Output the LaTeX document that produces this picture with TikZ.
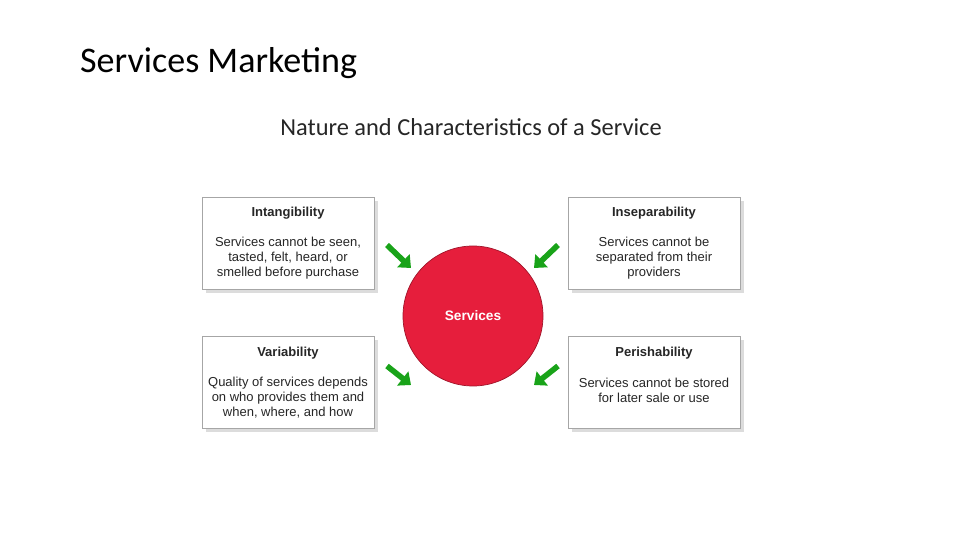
\documentclass[tikz,border=0pt]{standalone}
\usepackage{fontspec}
\setmainfont{Carlito}
\newfontfamily\boxfont{Liberation Sans}
\usetikzlibrary{shadows,arrows.meta}

\definecolor{servred}{RGB}{230,30,60}

\tikzset{
	trait/.style = {draw = gray!70, fill = white, minimum width = 172*0.02cm, minimum height = 92*0.02cm,
		drop shadow = {shadow xshift = 2pt, shadow yshift = -2.5pt, fill = gray!55}},
	traittitle/.style = {font = \boxfont\fontsize{7.4}{9}\selectfont\bfseries, text = black!85},
	traittext/.style = {font = \boxfont\fontsize{7.4}{8.6}\selectfont, align = center, text = black!85},
	push/.style = {draw = green!60!black!90, line width = 3.2pt, -{Triangle[length = 6pt, width = 10pt]}}
}

\begin{document}
\begin{tikzpicture}[x = 0.02cm, y = -0.02cm]
\useasboundingbox (0, 0) rectangle (960, 540);

	% Headings
	
	\node [anchor = west, font = \fontsize{20.5}{24}\selectfont] (title) at (74, 63) {Services Marketing};
	\node [font = \fontsize{13.9}{16}\selectfont, text = black!85] (subtitle) at (471, 127) {Nature and Characteristics of a Service};
	
	% Centre
	
	\node [circle, draw = servred!70!black, fill = servred, minimum size = 140*0.02cm] (services) at (473, 316) {};
	\node [font = \boxfont\fontsize{7.8}{9}\selectfont\bfseries, text = white] (servlabel) at (473, 316) {Services};
	
	% Characteristics
	
	\node [trait] (intang) at (288, 243) {};
	\node [traittitle] (intangtitle) at (288, 213) {Intangibility};
	\node [traittext] (intangtext) at (288, 258) {Services cannot be seen,\\tasted, felt, heard, or\\smelled before purchase};
	
	\node [trait] (insep) at (654, 243) {};
	\node [traittitle] (inseptitle) at (654, 213) {Inseparability};
	\node [traittext] (inseptext) at (654, 258) {Services cannot be\\separated from their\\providers};
	
	\node [trait] (vari) at (288, 382) {};
	\node [traittitle] (varititle) at (288, 353) {Variability};
	\node [traittext] (varitext) at (288, 398) {Quality of services depends\\on who provides them and\\when, where, and how};
	
	\node [trait] (perish) at (654, 382) {};
	\node [traittitle] (perishtitle) at (654, 353) {Perishability};
	\node [traittext] (perishtext) at (654, 390) {Services cannot be stored\\for later sale or use};
	
	% Arrows
	
	\coordinate (a1) at (387, 245);
	\coordinate (b1) at (411, 268);
	\coordinate (a2) at (558, 245);
	\coordinate (b2) at (534, 268);
	\coordinate (a3) at (387, 366);
	\coordinate (b3) at (411, 385);
	\coordinate (a4) at (558, 366);
	\coordinate (b4) at (534, 385);
	\foreach \i in {1, ..., 4}
		\draw [push] (a\i) -- (b\i);

\end{tikzpicture}
\end{document}
